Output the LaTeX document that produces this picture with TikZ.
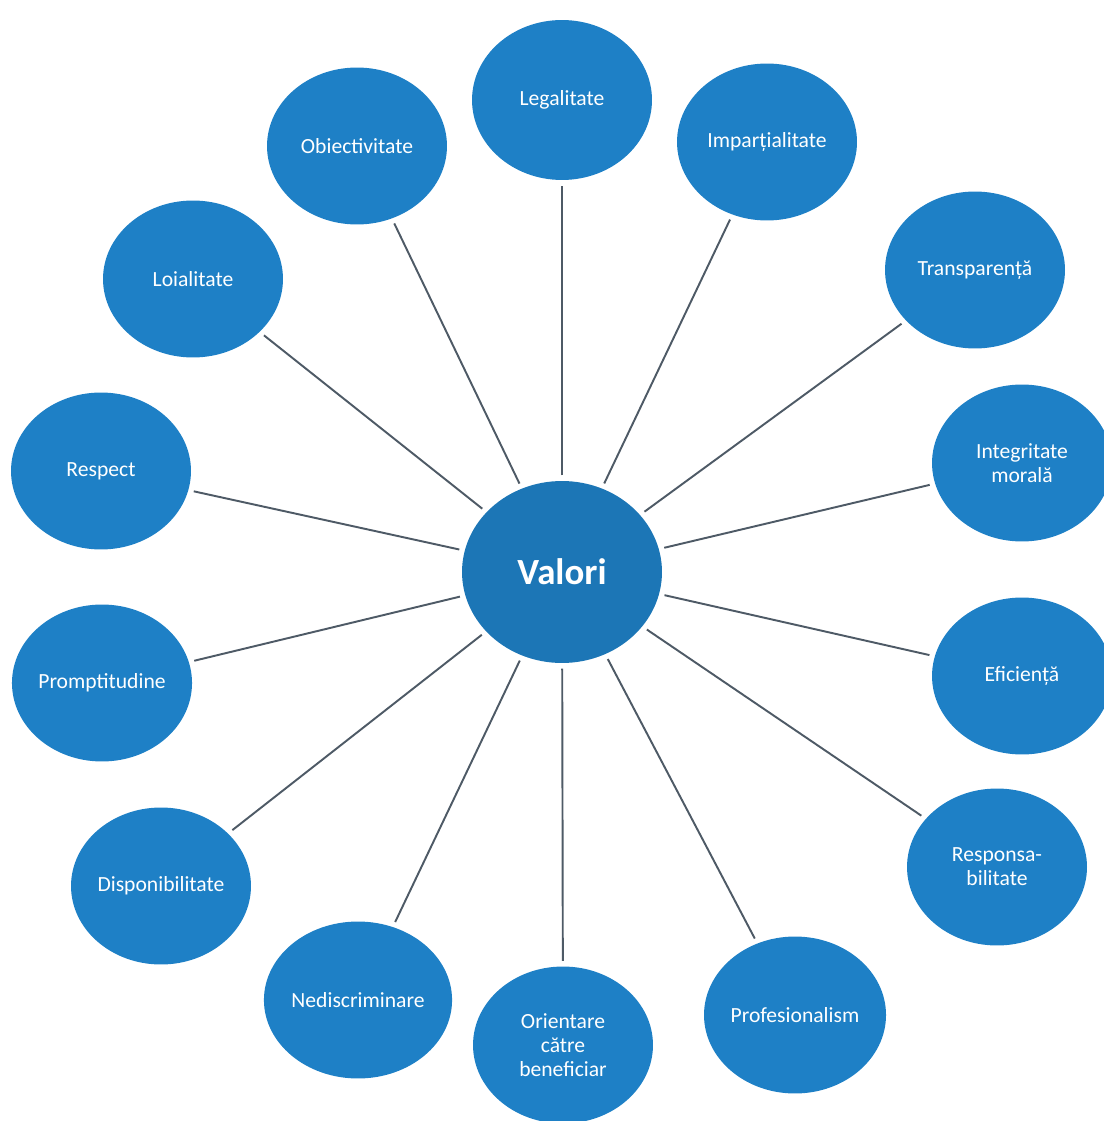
\documentclass[tikz,border=0pt]{standalone}
\usepackage{fontspec}
\setmainfont{Carlito}
\usetikzlibrary{shapes.geometric}

\definecolor{valblue}{HTML}{1E80C6}
\definecolor{spoke}{HTML}{4E5A66}

\begin{document}
\begin{tikzpicture}[x=0.02cm, y=-0.02cm]
  \tikzstyle{core}=[ellipse, fill=valblue!92!black, inner sep=0pt, minimum width=4cm, minimum height=3.64cm, text=white, font=\fontsize{21}{24}\selectfont\bfseries]
  \tikzstyle{val}=[ellipse, fill=valblue, inner sep=0pt, minimum width=3.6cm, minimum height=3.14cm, text=white, align=center, font=\fontsize{12.3}{13.7}\selectfont]
  \tikzstyle{link}=[draw=spoke, line width=1.1pt, shorten <=3pt, shorten >=3pt]

  \useasboundingbox (0,0) rectangle (1104,1121);

  % ------- nodes -------
  \node[core] (val) at (562,572) {Valori};

  \node[val, minimum height=3.2cm] (leg) at (562,100) {Legalitate};
  \node[val] (imp) at (767,142)  {Imparțialitate};
  \node[val] (obi) at (357,146)  {Obiectivitate};
  \node[val] (loi) at (193,279)  {Loialitate};
  \node[val] (tra) at (975,270)  {Transparență};
  \node[val] (res) at (101,471)  {Respect};
  \node[val] (int) at (1022,463) {Integritate\\morală};
  \node[val] (pro) at (102,683)  {Promptitudine};
  \node[val] (efi) at (1022,676) {Eficiență};
  \node[val] (dis) at (161,886)  {Disponibilitate};
  \node[val] (rsp) at (997,867)  {Responsa-\\bilitate};
  \node[val] (ned) at (358,1000) {Nediscriminare};
  \node[val] (ori) at (563,1045) {Orientare\\către\\beneficiar};
  \node[val] (prf) at (795,1015) {Profesionalism};

  % ------- spokes -------
  \draw[link] (val) -- (leg);
  \draw[link] (val) -- (imp);
  \draw[link] (val) -- (obi);
  \draw[link] (val) -- (loi);
  \draw[link] (val) -- (tra);
  \draw[link] (val) -- (res);
  \draw[link] (val) -- (int);
  \draw[link] (val) -- (pro);
  \draw[link] (val) -- (efi);
  \draw[link] (val) -- (dis);
  \draw[link] (val) -- (rsp);
  \draw[link] (val) -- (ned);
  \draw[link] (val) -- (ori);
  \draw[link] (val) -- (prf);
\end{tikzpicture}
\end{document}
